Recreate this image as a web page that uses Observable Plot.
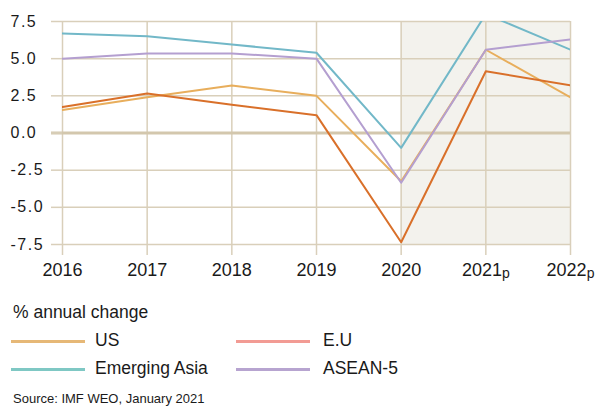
<!DOCTYPE html>
<html>
<head>
<meta charset="utf-8">
<script src="https://cdn.jsdelivr.net/npm/d3@7"></script>
<script src="https://cdn.jsdelivr.net/npm/@observablehq/plot@0.6"></script>
<style>
  body { margin: 0; background: #fff; font-family: "Liberation Sans", Arial, sans-serif; color: #1a1a1a; }
  #wrap { position: relative; width: 600px; height: 406px; overflow: hidden; }
  #chart { position: absolute; left: 0; top: 0; }
  .lbl { position: absolute; white-space: nowrap; line-height: 1; }
  .sw { position: absolute; height: 3px; width: 74px; }
</style>
</head>
<body>
<div id="wrap">
  <div id="chart"></div>
  <div class="lbl" style="left:13px; top:304px; font-size:17.5px;">% annual change</div>
  <div class="sw" style="left:11px; top:340px; background:#e6b877;"></div>
  <div class="lbl" style="left:95px; top:332px; font-size:17.5px;">US</div>
  <div class="sw" style="left:236px; top:340px; background:#f29b94;"></div>
  <div class="lbl" style="left:323px; top:332px; font-size:17.5px;">E.U</div>
  <div class="sw" style="left:11px; top:368px; background:#7fc8c4;"></div>
  <div class="lbl" style="left:95px; top:360px; font-size:17.5px;">Emerging Asia</div>
  <div class="sw" style="left:236px; top:368px; background:#b7a4d0;"></div>
  <div class="lbl" style="left:323px; top:360px; font-size:17.5px;">ASEAN-5</div>
  <div class="lbl" style="left:13px; top:392px; font-size:13px;">Source: IMF WEO, January 2021</div>
</div>
<script>
const years = [2016, 2017, 2018, 2019, 2020, 2021, 2022];
const yearLabels = ["2016", "2017", "2018", "2019", "2020", "2021p", "2022p"];
const us = [1.55, 2.4, 3.2, 2.5, -3.25, 5.6, 2.4];
const eu = [1.75, 2.65, 1.9, 1.2, -7.35, 4.15, 3.2];
const emergingAsia = [6.7, 6.5, 5.95, 5.4, -1.0, 8.0, 5.6];
const asean5 = [5.0, 5.35, 5.35, 5.0, -3.35, 5.6, 6.3];
const seriesNames = ["US", "E.U", "Emerging Asia", "ASEAN-5"];
const lineColors = ["#e8ae5c", "#d9702a", "#72b8c8", "#b49fd0"];
const yTicks = [-7.5, -5, -2.5, 0, 2.5, 5, 7.5];
const projectionStart = 2020;

const seriesValues = [us, eu, emergingAsia, asean5];
const rows = [];
seriesNames.forEach((name, i) => {
  years.forEach((yr, j) => rows.push({series: name, year: yr, value: seriesValues[i][j]}));
});

const grid = "#d9cfba";
const chart = Plot.plot({
  width: 600,
  height: 285,
  marginLeft: 62,
  marginRight: 30,
  marginTop: 21,
  marginBottom: 41,
  style: {fontFamily: "Liberation Sans, Arial, sans-serif", color: "#1a1a1a", background: "transparent"},
  x: {domain: [2016, 2022]},
  y: {domain: [-7.5, 7.5]},
  color: {domain: seriesNames, range: lineColors},
  marks: [
    Plot.rect([{x1: projectionStart, x2: 2022, y1: -7.5, y2: 7.5}], {x1: "x1", x2: "x2", y1: "y1", y2: "y2", fill: "#f3f2ed"}),
    Plot.gridY(yTicks, {stroke: grid, strokeOpacity: 1, strokeWidth: 1.5}),
    Plot.gridX(years, {stroke: grid, strokeOpacity: 1, strokeWidth: 1.5}),
    Plot.ruleY([0], {stroke: "#d3c7ad", strokeWidth: 3, insetLeft: -11}),
    Plot.axisY(yTicks, {tickSize: 11, tickPadding: 41, textAnchor: "start", stroke: grid, strokeWidth: 1.5, fontSize: 16, tickFormat: d => d.toFixed(1), label: null}),
    Plot.axisX(years, {tickSize: 11, tickPadding: 8, stroke: grid, strokeWidth: 1.5, fontSize: 18, tickFormat: d => yearLabels[years.indexOf(d)], label: null}),
    Plot.line(rows, {x: "year", y: "value", z: "series", stroke: "series", strokeWidth: 2, clip: true})
  ]
});
document.getElementById("chart").appendChild(chart);

chart.querySelectorAll("text").forEach(t => {
  const s = t.textContent;
  if (/^-?\d\.\d$/.test(s)) t.setAttribute("letter-spacing", "1.5");
  if (/^\d{4}p$/.test(s)) {
    t.textContent = s.slice(0, 4);
    const ts = document.createElementNS("http://www.w3.org/2000/svg", "tspan");
    ts.textContent = "p";
    ts.setAttribute("font-size", "14");
    ts.setAttribute("dy", "2");
    t.appendChild(ts);
  }
});
</script>
</body>
</html>
